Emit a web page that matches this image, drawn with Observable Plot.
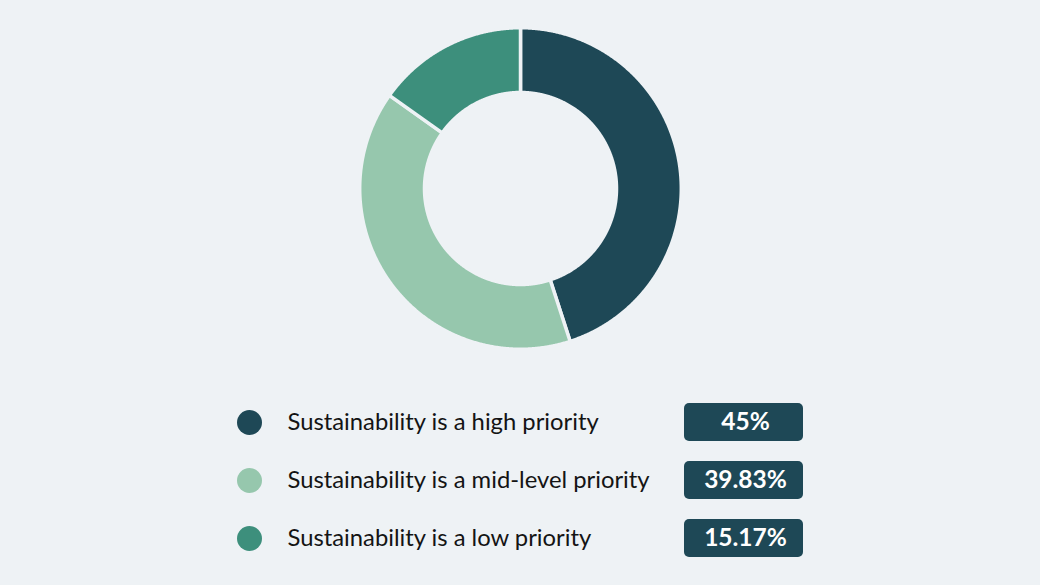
<!DOCTYPE html>
<html>
<head>
<meta charset="utf-8">
<script src="https://cdn.jsdelivr.net/npm/d3@7"></script>
<script src="https://cdn.jsdelivr.net/npm/@observablehq/plot@0.6"></script>
<style>
  html, body { margin: 0; padding: 0; background: #eef2f5; }
  #chart { width: 1040px; height: 585px; overflow: hidden; }
  #chart svg { display: block; background: transparent; }
</style>
</head>
<body>
<div id="chart"></div>
<script>
const categories = [
  "Sustainability is a high priority",
  "Sustainability is a mid-level priority",
  "Sustainability is a low priority"
];
const values = [45, 39.83, 15.17];
const valueLabels = ["45%", "39.83%", "15.17%"];
const colors = ["#1e4856", "#96c7ad", "#3d8f7c"];
const bg = "#eef2f5";

const data = categories.map((c, i) => ({category: c, value: values[i], label: valueLabels[i]}));

// Donut geometry from data via d3.pie (angles clockwise from top)
const pie = d3.pie().value(d => d.value).sort(null);
const arcs = pie(data);
const outerR = 1.005, innerR = 0.6;
const pts = [];
for (const a of arcs) {
  const n = Math.max(8, Math.ceil((a.endAngle - a.startAngle) / 0.005));
  for (let k = 0; k <= n; k++) {
    const t = a.startAngle + (a.endAngle - a.startAngle) * k / n;
    pts.push({category: a.data.category, x: outerR * Math.sin(t), y: outerR * Math.cos(t)});
  }
  for (let k = n; k >= 0; k--) {
    const t = a.startAngle + (a.endAngle - a.startAngle) * k / n;
    pts.push({category: a.data.category, x: innerR * Math.sin(t), y: innerR * Math.cos(t)});
  }
}

const colorScale = {domain: categories, range: colors};
const unit = 160;
const W = 1040, H1 = 376, H2 = 585 - 376;

const donut = Plot.plot({
  width: W, height: H1,
  margin: 0,
  style: {background: "transparent"},
  x: {domain: [-W / 2 / unit, W / 2 / unit], axis: null},
  y: {domain: [-H1 / 2 / unit, H1 / 2 / unit], axis: null},
  color: colorScale,
  marks: [
    Plot.line(pts, {
      x: "x", y: "y", z: "category", fill: "category",
      stroke: bg, strokeWidth: 3.5, curve: "linear-closed"
    })
  ]
});

const legend = Plot.plot({
  width: W, height: H2,
  marginTop: 17, marginBottom: 18, marginLeft: 0, marginRight: 0,
  style: {background: "transparent"},
  x: {domain: [0, W], axis: null},
  y: {domain: categories, axis: null, padding: 0},
  color: colorScale,
  marks: [
    Plot.dot(data, {x: 249, y: "category", r: 12.5, fill: "category"}),
    Plot.text(data, {
      x: 287, y: "category", text: "category", textAnchor: "start",
      fontSize: 23.8, fill: "#141414", fontFamily: "Lato"
    }),
    Plot.barX(data, {
      x1: 684, x2: 803, y: "category", fill: colors[0],
      insetTop: 10, insetBottom: 10, rx: 5
    }),
    Plot.text(data, {
      x: 745, y: "category", text: "label", fill: "white",
      fontSize: 24.5, fontWeight: "bold", fontFamily: "Lato"
    })
  ]
});

const chart = document.getElementById("chart");
chart.appendChild(donut);
chart.appendChild(legend);
</script>
</body>
</html>
